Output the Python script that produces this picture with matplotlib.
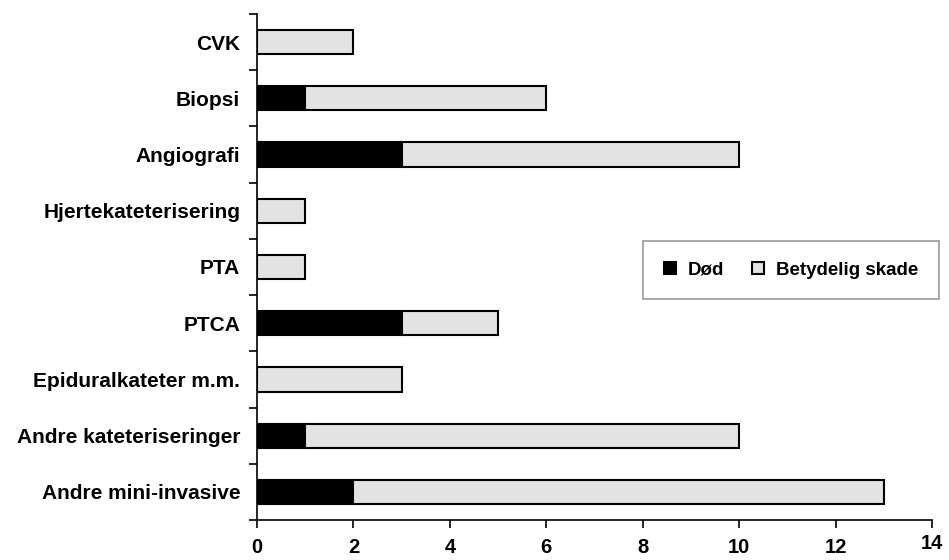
import matplotlib.pyplot as plt
import matplotlib.transforms as mtransforms
import numpy as np

# kategorier (fra toppen og ned) og antall hendelser
kategorier = ["CVK", "Biopsi", "Angiografi", "Hjertekateterisering", "PTA",
              "PTCA", "Epiduralkateter m.m.", "Andre kateteriseringer",
              "Andre mini-invasive"]
dod = [0, 1, 3, 0, 0, 3, 0, 1, 2]
skade = [2, 5, 7, 1, 1, 2, 3, 9, 11]
xticks = [0, 2, 4, 6, 8, 10, 12, 14]

plt.rcParams['font.family'] = ['Liberation Sans', 'DejaVu Sans']
plt.rcParams['font.weight'] = 'bold'

fig = plt.figure(figsize=(9.49, 5.60), dpi=100)
ax = fig.add_axes([257/949, 1-520/560, (932-257)/949, (520-14)/560])

y = np.arange(len(kategorier))[::-1]
dod = np.array(dod)
skade = np.array(skade)

ax.barh(y, dod, height=0.43, color='black', edgecolor='black', lw=1.5, label='Død')
ax.barh(y, skade, left=dod, height=0.43, color='#e3e3e3', edgecolor='black', lw=1.5,
        label='Betydelig skade')

ax.set_xlim(0, 14)
ax.set_ylim(-0.5, len(kategorier) - 0.5)
ax.set_xticks(xticks)
ax.set_xticklabels([str(v) for v in xticks], fontsize=14.5, fontweight='bold')
ax.set_yticks(y)
ax.set_yticklabels(kategorier, fontsize=15, fontweight='bold')
ax.tick_params(axis='y', length=0, pad=12)
ax.tick_params(axis='x', length=6, width=1.2, direction='out', pad=7)

# siste tallet på x-aksen står litt høyere
siste = ax.get_xticklabels()[-1]
siste.set_transform(siste.get_transform() +
                    mtransforms.ScaledTranslation(0, 4/100, fig.dpi_scale_trans))

# skillestreker mellom kategoriene på y-aksen
ax.set_yticks(np.arange(-0.5, len(kategorier)), minor=True)
ax.tick_params(axis='y', which='minor', length=6, width=1.2, direction='out')

for s in ['top', 'right']:
    ax.spines[s].set_visible(False)
ax.spines['left'].set_linewidth(1.2)
ax.spines['bottom'].set_linewidth(1.2)

leg = ax.legend(loc='upper left', bbox_to_anchor=((643-257)/675, 1-(241-14)/506),
                ncol=2, frameon=True, fancybox=False, edgecolor='#808080',
                handlelength=0.65, handleheight=0.65, handletextpad=0.65,
                borderpad=1.1, borderaxespad=0, columnspacing=1.45,
                prop={'size': 13.5, 'weight': 'bold'})
leg.get_frame().set_linewidth(1.2)

fig.savefig('out.png', dpi=100)
